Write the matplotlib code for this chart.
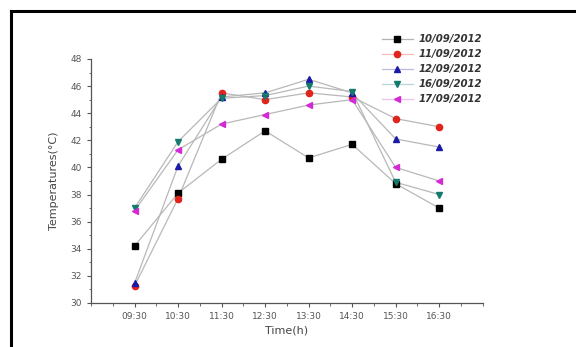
import matplotlib
matplotlib.use("Agg")
import matplotlib.pyplot as plt
from matplotlib.lines import Line2D
from matplotlib.colors import to_rgba
from matplotlib.ticker import MultipleLocator

times = ["09:30", "10:30", "11:30", "12:30", "13:30", "14:30", "15:30", "16:30"]
t_10_09 = [34.2, 38.1, 40.6, 42.7, 40.7, 41.7, 38.8, 37.0]
t_11_09 = [31.25, 37.7, 45.5, 45.0, 45.5, 45.2, 43.6, 43.0]
t_12_09 = [31.45, 40.1, 45.2, 45.5, 46.5, 45.5, 42.1, 41.5]
t_16_09 = [37.0, 41.9, 45.1, 45.3, 46.0, 45.6, 38.9, 38.0]
t_17_09 = [36.8, 41.3, 43.2, 43.9, 44.6, 45.0, 40.0, 39.0]

series = [
    ("10/09/2012", t_10_09, "black", "s"),
    ("11/09/2012", t_11_09, "#e0241b", "o"),
    ("12/09/2012", t_12_09, "#1a1aa6", "^"),
    ("16/09/2012", t_16_09, "#157a6e", "v"),
    ("17/09/2012", t_17_09, "#d32bd3", "<"),
]

fig = plt.figure(figsize=(5.76, 3.47), dpi=100)
ax = fig.add_axes([0.158, 0.127, 0.680, 0.703])

x = list(range(len(times)))
handles = []
for label, vals, color, marker in series:
    ax.plot(x, vals, color="#b8b8b8", lw=0.9, zorder=1)
    ax.plot(x, vals, linestyle="none", marker=marker, color=color,
            markersize=4.5, zorder=3)
    handles.append(Line2D([], [], color=to_rgba(color, 0.3), lw=0.9,
                          marker=marker, markersize=4.5,
                          markerfacecolor=color, markeredgecolor=color,
                          label=label))

ax.set_xlim(-1, 8)
ax.set_ylim(30, 48)
ax.set_xticks(x)
ax.set_xticklabels(times)
ax.yaxis.set_major_locator(MultipleLocator(2))
ax.yaxis.set_minor_locator(MultipleLocator(1))
ax.xaxis.set_minor_locator(MultipleLocator(0.5))

for side in ["top", "right"]:
    ax.spines[side].set_visible(False)
for side in ["left", "bottom"]:
    ax.spines[side].set_color("#555555")
    ax.spines[side].set_linewidth(0.9)

ax.tick_params(axis="both", which="major", direction="out", length=3,
               width=0.8, color="#555555", labelsize=6.5, labelcolor="#555555")
ax.tick_params(axis="both", which="minor", direction="out", length=1.8,
               width=0.6, color="#555555")

ax.set_xlabel("Time(h)", fontsize=8, color="#444444", labelpad=3)
ax.set_ylabel("Temperatures(\u00b0C)", fontsize=8, color="#444444", labelpad=8)

fig.legend(handles=handles, loc="upper left",
           bbox_to_anchor=(375 / 576, 1 - 27 / 347), frameon=False,
           prop={"size": 7.3, "style": "italic", "weight": "bold"},
           labelcolor="#333333", handlelength=3, handletextpad=0.6,
           labelspacing=0.5, borderpad=0.2)

# black frame lines on top and left edges
fig.add_artist(Line2D([11 / 576, 1.0], [1 - 11 / 347, 1 - 11 / 347],
                      transform=fig.transFigure, color="black", lw=2.2))
fig.add_artist(Line2D([11 / 576, 11 / 576], [1 - 11 / 347, 0.0],
                      transform=fig.transFigure, color="black", lw=2.2))

fig.savefig("out.png", dpi=100)
